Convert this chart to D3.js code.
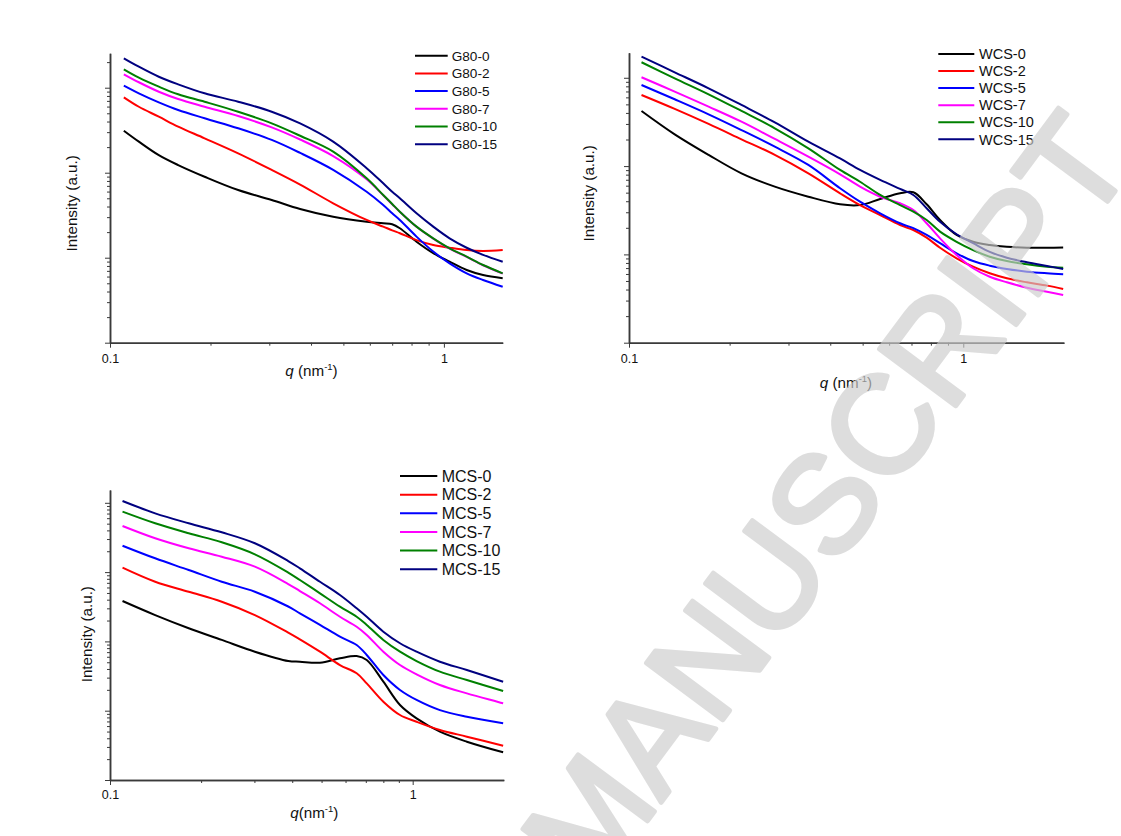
<!DOCTYPE html>
<html><head><meta charset="utf-8">
<script src="https://cdn.jsdelivr.net/npm/d3@7"></script>
<style>
body{margin:0;background:#fff;}
svg{display:block;}
text{font-family:"Liberation Sans",Arial,Helvetica,sans-serif;}
</style>
</head><body>
<svg id="chart" width="1121" height="836"></svg>
<script>
// ---------- data ----------
const seriesColors = ["#000000", "#ff0000", "#0000ff", "#ff00ff", "#008000", "#000080"];
const xTickValues = [0.1, 1];
const xTickLabels = ["0.1", "1"];

// Panel 1: G80
const g80Names = ["G80-0", "G80-2", "G80-5", "G80-7", "G80-10", "G80-15"];
const g80Q = [0.11, 0.122, 0.14, 0.16, 0.192, 0.242, 0.305, 0.371, 0.466, 0.587, 0.658, 0.7, 0.738, 0.828, 0.929, 1.04, 1.17, 1.31, 1.5];
const g80_0  = [312, 232, 161, 123, 89.7, 62.5, 47.8, 37.4, 30.3, 26.5, 25.4, 24.7, 22.2, 15.4, 11.3, 8.97, 7.16, 6.25, 5.73];
const g80_2  = [771, 597, 456, 348, 254, 169, 108, 72.6, 43.7, 27.8, 23.2, 21.0, 19.4, 16.1, 14.1, 13.1, 12.3, 12.0, 12.3];
const g80_5  = [1057, 859, 673, 547, 437, 333, 243, 171, 108, 59.7, 41.7, 33.3, 27.8, 17.7, 11.8, 8.59, 6.55, 5.47, 4.56];
const g80_7  = [1439, 1159, 897, 736, 597, 464, 342, 246, 157, 83.6, 54.2, 42.5, 34.6, 23.1, 16.8, 12.8, 10.2, 8.15, 6.5];
const g80_10 = [1644, 1312, 1028, 836, 684, 522, 381, 272, 177, 85.9, 54.7, 42.9, 34.8, 23.2, 16.9, 12.9, 10.3, 8.20, 6.55];
const g80_15 = [2218, 1766, 1346, 1096, 859, 684, 522, 380, 232, 113, 75.0, 59.7, 50.0, 33.3, 23.2, 16.9, 13.1, 10.8, 8.97];

// Panel 2: WCS
const wcsNames = ["WCS-0", "WCS-2", "WCS-5", "WCS-7", "WCS-10", "WCS-15"];
const wcsQ = [0.109, 0.137, 0.173, 0.217, 0.273, 0.344, 0.428, 0.491, 0.564, 0.647, 0.709, 0.777, 0.852, 0.955, 1.07, 1.2, 1.35, 1.55, 1.78, 1.99];
const wcs_0  = [421, 229, 134, 82.8, 58.5, 45.0, 36.9, 36.2, 42.4, 49.2, 50.5, 36.9, 24.5, 16.6, 13.9, 12.8, 12.2, 11.9, 11.9, 12.0];
const wcs_2  = [638, 444, 300, 201, 134, 82.8, 49.2, 36.2, 27.9, 21.5, 18.9, 15.5, 11.9, 9.04, 7.26, 6.11, 5.36, 4.83, 4.43, 4.06];
const wcs_5  = [828, 571, 386, 256, 166, 103, 56.1, 39.5, 29.2, 22.5, 19.8, 16.6, 13.4, 10.3, 8.41, 7.45, 6.84, 6.37, 6.11, 5.96];
const wcs_7  = [1014, 697, 471, 318, 203, 128, 80.7, 58.5, 45.0, 37.9, 31.8, 22.5, 15.2, 9.84, 6.97, 5.58, 4.83, 4.20, 3.78, 3.47];
const wcs_10 = [1500, 986, 650, 421, 268, 159, 90.4, 66.5, 47.1, 36.2, 30.5, 24.5, 18.1, 13.9, 11.2, 9.42, 8.41, 7.73, 7.26, 7.06];
const wcs_15 = [1734, 1153, 760, 492, 313, 189, 122, 90.4, 69.7, 55.1, 47.1, 33.3, 23.4, 16.9, 13.4, 10.7, 9.18, 8.15, 7.40, 6.84];

// Panel 3: MCS
const mcsNames = ["MCS-0", "MCS-2", "MCS-5", "MCS-7", "MCS-10", "MCS-15"];
const mcsQ = [0.11, 0.141, 0.182, 0.234, 0.301, 0.388, 0.424, 0.494, 0.575, 0.653, 0.705, 0.8, 0.908, 1.03, 1.23, 1.51, 1.99];
const mcs_0  = [383, 240, 155, 105, 71.0, 52.1, 50.9, 49.3, 57.0, 61.5, 54.0, 26.2, 12.1, 7.76, 4.98, 3.57, 2.51];
const mcs_2  = [1159, 726, 521, 374, 240, 134, 107, 71.0, 45.6, 34.7, 24.8, 13.5, 8.67, 6.93, 5.27, 4.22, 3.13];
const mcs_5  = [2404, 1581, 1072, 726, 521, 319, 254, 173, 117, 88.7, 63.7, 32.7, 19.9, 14.3, 10.2, 8.18, 6.58];
const mcs_7  = [4624, 3076, 2203, 1667, 1197, 673, 533, 355, 227, 163, 124, 71.0, 45.6, 33.5, 23.5, 17.8, 12.8];
const mcs_10 = [7447, 5058, 3631, 2692, 1807, 986, 769, 494, 317, 227, 173, 105, 71.0, 52.1, 36.6, 27.7, 19.2];
const mcs_15 = [10617, 7047, 5058, 3750, 2606, 1445, 1135, 726, 468, 301, 227, 138, 94.0, 71.0, 50.9, 38.6, 26.2];

// ---------- layout ----------
const panels = [
  { names: g80Names, q: g80Q, series: [g80_0, g80_2, g80_5, g80_7, g80_10, g80_15],
    xDomain: [0.1, 1.5], yDomain: [1, 2540],
    left: 110, right: 502.7, top: 53.3, bottom: 342.7,
    tickPad: 6.3, xLabel: { x: 311.5, y: 376, space: true },
    yLabel: { x: 77.4, y: 203.3 },
    legend: { x1: 415, x2: 447.7, tx: 451.7, y0: 55.7, dy: 17.7, fs: 13.6 } },
  { names: wcsNames, q: wcsQ, series: [wcs_0, wcs_2, wcs_5, wcs_7, wcs_10, wcs_15],
    xDomain: [0.1, 2], yDomain: [1, 1923],
    left: 629, right: 1063.9, top: 52.7, bottom: 342.7,
    tickPad: 6.3, xLabel: { x: 846, y: 388, space: true },
    yLabel: { x: 594, y: 193.3 },
    legend: { x1: 938.3, x2: 974.3, tx: 979, y0: 54, dy: 17.06, fs: 14.5 } },
  { names: mcsNames, q: mcsQ, series: [mcs_0, mcs_2, mcs_5, mcs_7, mcs_10, mcs_15],
    xDomain: [0.1, 2], yDomain: [1, 15300],
    left: 110, right: 503.8, top: 490, bottom: 780,
    tickPad: 5, xLabel: { x: 314.3, y: 817.7, space: false },
    yLabel: { x: 92.4, y: 634.2 },
    legend: { x1: 400, x2: 437.3, tx: 441.7, y0: 476, dy: 18.65, fs: 16 } }
];

const svg = d3.select("#chart");
svg.append("rect").attr("width", 1121).attr("height", 836).attr("fill", "#ffffff");

function minorTicks(domain) {
  const out = [];
  const lo = Math.floor(Math.log10(domain[0]));
  const hi = Math.ceil(Math.log10(domain[1]));
  for (let e = lo; e <= hi; e++) {
    for (let k = 2; k <= 9; k++) {
      const v = k * Math.pow(10, e);
      if (v > domain[0] * 1.0001 && v < domain[1] * 0.9999) out.push(v);
    }
  }
  return out;
}
function majorTicks(domain) {
  const out = [];
  const lo = Math.ceil(Math.log10(domain[0]) - 1e-9);
  const hi = Math.floor(Math.log10(domain[1]) + 1e-9);
  for (let e = lo; e <= hi; e++) out.push(Math.pow(10, e));
  return out;
}

const axisColor = "#3a3a3a";

panels.forEach(p => {
  const x = d3.scaleLog().domain(p.xDomain).range([p.left, p.right]);
  const y = d3.scaleLog().domain(p.yDomain).range([p.bottom, p.top]);
  const g = svg.append("g");

  const line = d3.line()
    .x((d, i) => x(p.q[i]))
    .y(d => y(d))
    .curve(d3.curveCatmullRom.alpha(0.5));
  p.series.forEach((s, i) => {
    g.append("path").datum(s)
      .attr("d", line)
      .attr("fill", "none")
      .attr("stroke", seriesColors[i])
      .attr("stroke-width", 2)
      .attr("stroke-linejoin", "round");
  });

  const gxMinor = g.append("g").attr("transform", `translate(0,${p.bottom})`)
    .call(d3.axisBottom(x).tickValues(minorTicks(p.xDomain)).tickSize(3).tickSizeOuter(0).tickFormat(""));
  const gx = g.append("g").attr("transform", `translate(0,${p.bottom})`)
    .call(d3.axisBottom(x).tickValues(xTickValues).tickSize(5).tickSizeOuter(0).tickPadding(p.tickPad)
      .tickFormat((d, i) => xTickLabels[i]));
  const gyMinor = g.append("g").attr("transform", `translate(${p.left},0)`)
    .call(d3.axisLeft(y).tickValues(minorTicks(p.yDomain)).tickSize(3).tickSizeOuter(0).tickFormat(""));
  const gy = g.append("g").attr("transform", `translate(${p.left},0)`)
    .call(d3.axisLeft(y).tickValues(majorTicks(p.yDomain)).tickSize(5).tickSizeOuter(0).tickFormat(""));

  [gxMinor, gx, gyMinor, gy].forEach(a => {
    a.select(".domain").attr("stroke", axisColor).attr("stroke-width", 1.5);
    a.selectAll(".tick line").attr("stroke", axisColor).attr("stroke-width", 1);
    a.selectAll("text").attr("fill", "#111").style("font-size", "12.5px")
      .style("font-family", '"Liberation Sans",Arial,sans-serif');
  });

  const xl = g.append("text").attr("x", p.xLabel.x).attr("y", p.xLabel.y)
    .attr("text-anchor", "middle").attr("fill", "#111").style("font-size", "15.2px");
  xl.append("tspan").attr("font-style", "italic").text("q");
  xl.append("tspan").text(p.xLabel.space ? " (nm" : "(nm");
  xl.append("tspan").attr("dy", -6).style("font-size", "9.5px").text("-1");
  xl.append("tspan").attr("dy", 6).text(")");

  g.append("text")
    .attr("transform", `translate(${p.yLabel.x},${p.yLabel.y}) rotate(-90)`)
    .attr("text-anchor", "middle").attr("fill", "#111").style("font-size", "15.2px")
    .text("Intensity (a.u.)");

  const L = p.legend;
  p.names.forEach((n, i) => {
    const yy = L.y0 + i * L.dy;
    g.append("line").attr("x1", L.x1).attr("x2", L.x2).attr("y1", yy).attr("y2", yy)
      .attr("stroke", seriesColors[i]).attr("stroke-width", 2);
    g.append("text").attr("x", L.tx).attr("y", yy).attr("dy", "0.36em")
      .attr("fill", "#111").style("font-size", L.fs + "px").text(n);
  });
});

// watermark
svg.append("g").attr("opacity", 0.66)
  .append("text")
  .attr("transform", "translate(826,500) rotate(-53.4)")
  .attr("text-anchor", "middle").attr("dominant-baseline", "central")
  .attr("fill", "#cdcdcd").attr("stroke", "#cdcdcd").attr("stroke-width", 5)
  .attr("stroke-linejoin", "round")
  .style("font-size", "138px")
  .text("MANUSCRIPT");
</script>
</body></html>
